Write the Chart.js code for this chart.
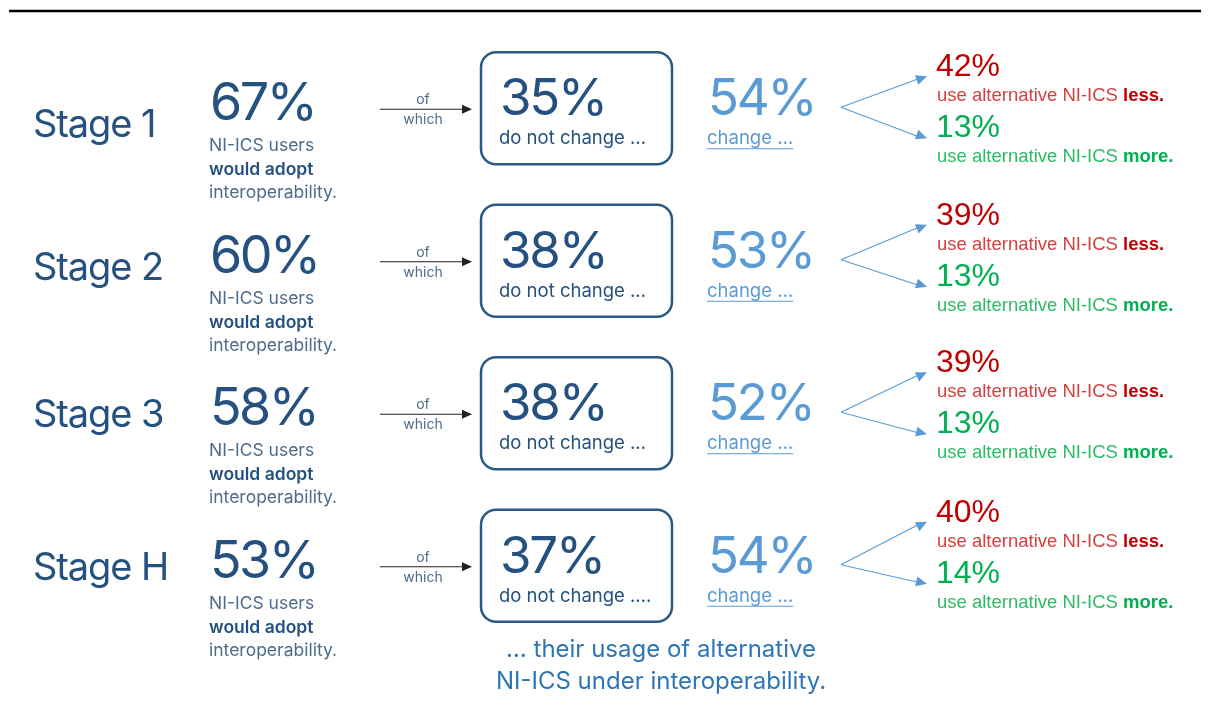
<!DOCTYPE html>
<html><head><meta charset="utf-8">
<script src="https://cdn.jsdelivr.net/npm/chart.js@4.4.1/dist/chart.umd.min.js"></script>
<style>html,body{margin:0;padding:0;background:#fff;overflow:hidden}#wrap{width:1210px;height:722px}</style>
</head><body><div id="wrap"><canvas id="c" width="1210" height="722"></canvas></div>
<script>
// ---- data ----
const stages = ['Stage 1', 'Stage 2', 'Stage 3', 'Stage H'];
const adoptPct = [67, 60, 58, 53];
const noChangePct = [35, 38, 38, 37];
const changePct = [54, 53, 52, 54];
const lessPct = [42, 39, 39, 40];
const morePct = [13, 13, 13, 14];
const noChangeText = ['do not change …', 'do not change …', 'do not change …', 'do not change ….'];
const adoptLines = ['NI-ICS users', 'would adopt', 'interoperability.'];
const footerLines = ['… their usage of alternative', 'NI-ICS under interoperability.'];

// ---- layout / style ----
const DARK = '#24517f', SUB = '#4d6b8c', LIGHT = '#5b9bd5', FOOT = '#2e75b6';
const RED = '#c00000', RED2 = '#d5403f', GREEN = '#00b050', GREEN2 = '#2cbb66';
const LEFT_FONT = 'Inter, "Noto Sans", sans-serif';
const RIGHT_FONT = '"Liberation Sans", Arial, sans-serif';
const stageBase = [28, 18, 13, 13];   // baseline offset of stage label per row
const rightShift = [0, -4, -9, -12];  // vertical drift of right-hand block per row

const infographic = {
  id: 'infographic',
  afterDraw(chart) {
    const ctx = chart.ctx, xs = chart.scales.x, ys = chart.scales.y;
    const X = v => xs.getPixelForValue(v);
    ctx.save();
    // top rule
    ctx.strokeStyle = '#000'; ctx.lineWidth = 2.5;
    ctx.beginPath(); ctx.moveTo(X(9), 11); ctx.lineTo(X(1201), 11); ctx.stroke();

    const text = (s, x, y, font, color, align, ls) => {
      ctx.font = font; ctx.fillStyle = color; ctx.textAlign = align || 'left';
      ctx.letterSpacing = ls || '0px';
      ctx.textBaseline = 'alphabetic'; ctx.fillText(s, x, y);
      const w = ctx.measureText(s).width;
      ctx.letterSpacing = '0px';
      return w;
    };
    const arrowHead = (x0, y0, x1, y1, len, half, color) => {
      const a = Math.atan2(y1 - y0, x1 - x0);
      ctx.fillStyle = color; ctx.beginPath();
      ctx.moveTo(x1, y1);
      ctx.lineTo(x1 - len * Math.cos(a) + half * Math.sin(a), y1 - len * Math.sin(a) - half * Math.cos(a));
      ctx.lineTo(x1 - len * Math.cos(a) - half * Math.sin(a), y1 - len * Math.sin(a) + half * Math.cos(a));
      ctx.closePath(); ctx.fill();
    };

    stages.forEach((st, i) => {
      const cy = ys.getPixelForValue(i);
      // stage label
      text(st, X(33), cy + stageBase[i], '38px ' + LEFT_FONT, DARK, 'left', '-1.1px');
      // adopt %
      text(adoptPct[i] + '%', X(210), cy + 11, '52px ' + LEFT_FONT, DARK, 'left', '-2.5px');
      text(adoptLines[0], X(209), cy + 42, '17.5px ' + LEFT_FONT, SUB);
      text(adoptLines[1], X(209), cy + 66, '600 17.5px ' + LEFT_FONT, DARK);
      text(adoptLines[2], X(209), cy + 89, '17.5px ' + LEFT_FONT, SUB);
      // of which arrow
      ctx.strokeStyle = '#222'; ctx.lineWidth = 1.2;
      ctx.beginPath(); ctx.moveTo(X(380), cy); ctx.lineTo(X(464), cy); ctx.stroke();
      arrowHead(X(380), cy, X(472), cy, 10, 4.5, '#222');
      text('of', X(423), cy - 5, '14px ' + LEFT_FONT, SUB, 'center');
      text('which', X(423), cy + 15, '14px ' + LEFT_FONT, SUB, 'center');
      // box
      ctx.strokeStyle = '#2b5987'; ctx.lineWidth = 2.5;
      ctx.beginPath(); ctx.roundRect(X(481), cy - 57, X(672) - X(481), 112, 15); ctx.stroke();
      text(noChangePct[i] + '%', X(500), cy + 6, '51px ' + LEFT_FONT, DARK, 'left', '-2.2px');
      text(noChangeText[i], X(499), cy + 35, '18.5px ' + LEFT_FONT, DARK);
      // change
      text(changePct[i] + '%', X(708), cy + 6, '51px ' + LEFT_FONT, LIGHT, 'left', '-2.2px');
      const w = text('change …', X(707), cy + 35, '18.5px ' + LEFT_FONT, LIGHT);
      ctx.strokeStyle = LIGHT; ctx.lineWidth = 1.2;
      ctx.beginPath(); ctx.moveTo(X(707), cy + 39.5); ctx.lineTo(X(707) + w, cy + 39.5); ctx.stroke();
      // split arrows
      const r = cy + rightShift[i];
      const ox = X(841), oy = cy - 2;
      const tU = r - 33, tL = r + 29;
      ctx.strokeStyle = LIGHT; ctx.lineWidth = 1.2;
      ctx.beginPath(); ctx.moveTo(ox, oy); ctx.lineTo(X(920), tU + 2); ctx.stroke();
      ctx.beginPath(); ctx.moveTo(ox, oy); ctx.lineTo(X(920), tL - 1); ctx.stroke();
      arrowHead(ox, oy, X(927), tU, 11, 5, LIGHT);
      arrowHead(ox, oy, X(927), tL, 11, 5, LIGHT);
      // less / more
      text(lessPct[i] + '%', X(936), r - 33, '32px ' + RIGHT_FONT, RED);
      let w1 = text('use alternative NI-ICS ', X(937), r - 8, '18.5px ' + RIGHT_FONT, RED2);
      text('less.', X(937) + w1, r - 8, 'bold 18.5px ' + RIGHT_FONT, RED);
      text(morePct[i] + '%', X(936), r + 28, '32px ' + RIGHT_FONT, GREEN);
      w1 = text('use alternative NI-ICS ', X(937), r + 53, '18.5px ' + RIGHT_FONT, GREEN2);
      text('more.', X(937) + w1, r + 53, 'bold 18.5px ' + RIGHT_FONT, GREEN);
    });
    // footer
    text(footerLines[0], X(661), 657, '24px ' + LEFT_FONT, FOOT, 'center');
    text(footerLines[1], X(661), 689, '24px ' + LEFT_FONT, FOOT, 'center');
    ctx.restore();
  }
};

new Chart(document.getElementById('c'), {
  type: 'scatter',
  data: { datasets: [{ data: stages.map((s, i) => ({ x: adoptPct[i], y: s })), pointRadius: 0, showLine: false }] },
  options: {
    responsive: false, animation: false, devicePixelRatio: 1,
    layout: { padding: { top: 33, bottom: 79, left: 0, right: 0 } },
    plugins: { legend: { display: false }, tooltip: { enabled: false } },
    scales: {
      x: { type: 'linear', min: 0, max: 1210, display: false },
      y: { type: 'category', labels: stages, offset: true, display: false }
    }
  },
  plugins: [infographic]
});
</script></body></html>
